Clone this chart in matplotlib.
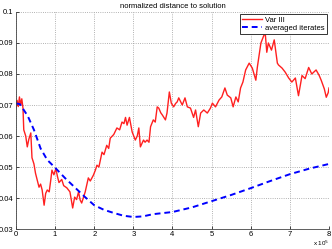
import matplotlib
matplotlib.use("Agg")
import matplotlib.pyplot as plt

plt.rcParams['font.family'] = ['Liberation Sans', 'DejaVu Sans']

# x in units of 1e5 iterations
red_x = [0.00, 0.03, 0.06, 0.09, 0.12, 0.15, 0.18, 0.20, 0.25, 0.29, 0.33, 0.38, 0.41, 0.46,
         0.50, 0.55, 0.59, 0.63, 0.67, 0.72, 0.76, 0.80, 0.85, 0.89, 0.92, 0.97, 1.02, 1.06,
         1.10, 1.17, 1.22, 1.30, 1.38, 1.45, 1.50, 1.55, 1.60, 1.64, 1.68, 1.72, 1.77, 1.85,
         1.90, 1.98, 2.03, 2.07, 2.12, 2.20, 2.25, 2.32, 2.37, 2.41, 2.50, 2.58, 2.65, 2.71,
         2.76, 2.80, 2.84, 2.90, 2.97, 3.05, 3.10, 3.14, 3.18, 3.26, 3.30, 3.35, 3.40, 3.44,
         3.51, 3.56, 3.61, 3.65, 3.70, 3.74, 3.82, 3.86, 3.92, 3.97, 4.03, 4.08, 4.12, 4.16,
         4.25, 4.32, 4.38, 4.46, 4.54, 4.59, 4.66, 4.72, 4.80, 4.89, 4.97, 5.02, 5.10, 5.19,
         5.26, 5.34, 5.40, 5.49, 5.55, 5.62, 5.68, 5.74, 5.80, 5.87, 5.96, 6.04, 6.13, 6.17,
         6.26, 6.34, 6.37, 6.41, 6.45, 6.53, 6.60, 6.68, 6.71, 6.80, 6.88, 6.97, 7.05, 7.14,
         7.22, 7.31, 7.39, 7.48, 7.56, 7.67, 7.75, 7.80, 7.88, 7.93, 7.98, 8.00]
red_y = [0.0690, 0.0715, 0.0695, 0.0726, 0.0700, 0.0720, 0.0690, 0.0620, 0.0600, 0.0565, 0.0590,
         0.0610, 0.0530, 0.0510, 0.0480, 0.0455, 0.0435, 0.0445, 0.0426, 0.0377, 0.0415, 0.0426,
         0.0420, 0.0458, 0.0490, 0.0475, 0.0495, 0.0470, 0.0450, 0.0460, 0.0440, 0.0433, 0.0420,
         0.0368, 0.0403, 0.0395, 0.0420, 0.0394, 0.0384, 0.0400, 0.0420, 0.0465, 0.0455, 0.0474,
         0.0490, 0.0506, 0.0500, 0.0548, 0.0540, 0.0570, 0.0560, 0.0593, 0.0605, 0.0626, 0.0620,
         0.0645, 0.0640, 0.0660, 0.0635, 0.0660, 0.0613, 0.0587, 0.0600, 0.0626, 0.0565, 0.0587,
         0.0580, 0.0587, 0.0580, 0.0630, 0.0652, 0.0645, 0.0694, 0.0690, 0.0675, 0.0668, 0.0652,
         0.0674, 0.0742, 0.0706, 0.0694, 0.0705, 0.0710, 0.0723, 0.0700, 0.0723, 0.0694, 0.0690,
         0.0660, 0.0684, 0.0630, 0.0674, 0.0684, 0.0674, 0.0690, 0.0706, 0.0694, 0.0716, 0.0726,
         0.0755, 0.0732, 0.0723, 0.0694, 0.0726, 0.0710, 0.0755, 0.0774, 0.0813, 0.0835, 0.0819,
         0.0780, 0.0823, 0.0900, 0.0926, 0.0932, 0.0870, 0.0900, 0.0877, 0.0910, 0.0835, 0.0829,
         0.0819, 0.0806, 0.0787, 0.0774, 0.0787, 0.0730, 0.0795, 0.0785, 0.0821, 0.0800, 0.0813,
         0.0795, 0.0780, 0.0752, 0.0725, 0.0740, 0.0755]

blue_x = [0.0, 0.1, 0.2, 0.3, 0.46, 0.63, 0.8, 1.0, 1.25, 1.5, 1.75, 2.0, 2.25, 2.5, 2.75,
          3.0, 3.25, 3.5, 4.0, 4.5, 5.0, 5.5, 6.0, 6.5, 7.0, 7.5, 8.0]
blue_y = [0.0705, 0.0703, 0.0684, 0.0665, 0.0620, 0.0560, 0.0523, 0.0498, 0.0465, 0.0435, 0.0405,
          0.0377, 0.0362, 0.0352, 0.0343, 0.0339, 0.0341, 0.0348, 0.0355, 0.0370, 0.0390, 0.0410,
          0.0432, 0.0455, 0.0477, 0.0495, 0.0510]

x_ticks = [0, 1, 2, 3, 4, 5, 6, 7, 8]
y_ticks = [0.03, 0.04, 0.05, 0.06, 0.07, 0.08, 0.09, 0.1]
y_labels = ['0.03', '0.04', '0.05', '0.06', '0.07', '0.08', '0.09', '0.1']

fig = plt.figure(figsize=(3.32, 2.49), dpi=100)
ax = fig.add_axes([0.048, 0.080, 0.943, 0.872])

ax.plot(red_x, red_y, color='#ff2020', lw=1.0, label='Var III')
ax.plot(blue_x, blue_y, color='#0000ff', lw=1.4, ls=(0, (3, 2)), label='averaged iterates')

ax.set_xlim(0, 8)
ax.set_ylim(0.03, 0.1)
ax.set_xticks(x_ticks)
ax.set_yticks(y_ticks)
ax.set_yticklabels(y_labels)
ax.tick_params(direction='in', length=2, width=0.5, labelsize=5.5, pad=2)
ax.tick_params(axis='x', pad=1.2)
ax.grid(True, ls=':', color='#999999', lw=0.6)
for s in ['top', 'right']:
    ax.spines[s].set_visible(False)
for s in ['left', 'bottom']:
    ax.spines[s].set_linewidth(0.6)
    ax.spines[s].set_color('#444444')

ax.set_title('normalized distance to solution', fontsize=5.5, pad=2.5)
ax.text(1.0, -0.066, r'x 10$^5$', transform=ax.transAxes, ha='right', va='center', fontsize=4.5)

leg = ax.legend(loc='upper right', fontsize=5.5, fancybox=False, framealpha=1,
                edgecolor='#333333', borderaxespad=0.3, handlelength=2.6, borderpad=0.25,
                labelspacing=0.15, handletextpad=0.4)
leg.get_frame().set_linewidth(0.7)

fig.savefig('out.png', dpi=100)
